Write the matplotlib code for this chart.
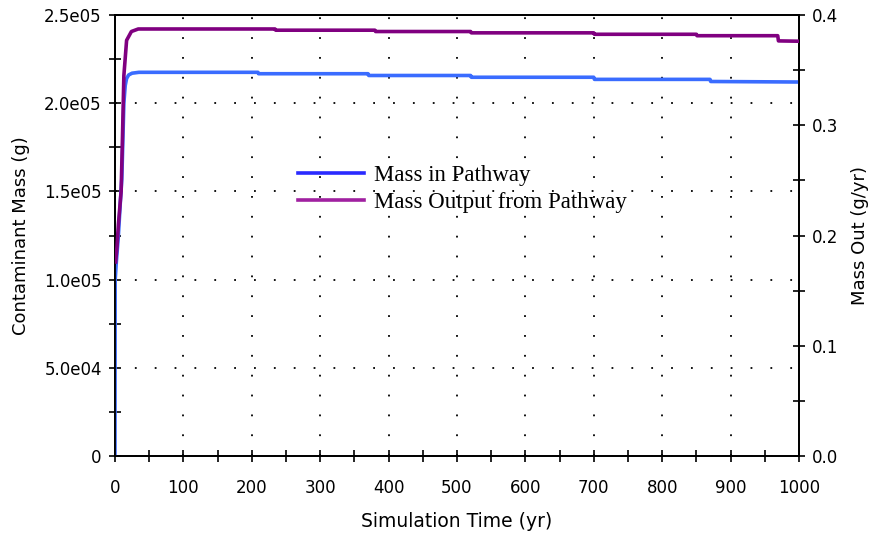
import matplotlib.pyplot as plt
from matplotlib.ticker import MultipleLocator, FuncFormatter
from matplotlib.lines import Line2D

# values
time_mass = [0, 0.3, 2, 5, 8, 10, 13, 15, 17, 20, 25, 35, 209, 210, 370, 371, 520, 521,
             700, 701, 870, 871, 1000]
mass_in_pathway = [0, 1.0e5, 1.1e5, 1.25e5, 1.45e5, 1.57e5, 2.0e5, 2.1e5, 2.14e5, 2.16e5,
                   2.17e5, 2.175e5, 2.175e5, 2.167e5, 2.167e5, 2.157e5, 2.157e5, 2.147e5,
                   2.147e5, 2.135e5, 2.135e5, 2.123e5, 2.12e5]

time_out = [1, 3, 5, 9, 11, 13, 17, 24, 34, 234, 235, 380, 381, 520, 521, 700, 701,
            850, 851, 969, 970, 1000]
mass_out = [0.176, 0.19, 0.21, 0.24, 0.29, 0.345, 0.377, 0.385, 0.3873, 0.3873, 0.3862,
            0.3862, 0.3850, 0.3850, 0.3838, 0.3838, 0.3825, 0.3825, 0.3812, 0.3812, 0.3765,
            0.3762]

plt.rcParams['font.family'] = 'DejaVu Sans'

fig = plt.figure(figsize=(8.77, 5.37), dpi=100)
ax = fig.add_axes([0.1311, 0.1508, 0.7799, 0.8213])
ax2 = ax.twinx()

ax.plot(time_mass, mass_in_pathway, color='#3a6cff', lw=2.6, zorder=3)
ax2.plot(time_out, mass_out, color='#800080', lw=2.6, zorder=3)

ax.set_xlim(0, 1000)
ax.set_ylim(0, 2.5e5)
ax2.set_ylim(0, 0.4)

ax.xaxis.set_major_locator(MultipleLocator(100))
ax.xaxis.set_minor_locator(MultipleLocator(50))
ax.yaxis.set_major_locator(MultipleLocator(5e4))
ax.yaxis.set_minor_locator(MultipleLocator(2.5e4))
ax2.yaxis.set_major_locator(MultipleLocator(0.1))
ax2.yaxis.set_minor_locator(MultipleLocator(0.05))


def sci_fmt(v, pos):
    if v == 0:
        return '0'
    m, e = f'{v:.1e}'.split('e')
    return f'{m}e{int(e):02d}'


ax.yaxis.set_major_formatter(FuncFormatter(sci_fmt))
ax2.yaxis.set_major_formatter(FuncFormatter(lambda v, p: f'{v:.1f}'))

for a in (ax, ax2):
    a.tick_params(which='major', direction='inout', length=9, width=1.2,
                  labelsize=12, color='black')
    a.tick_params(which='minor', direction='inout', length=9, width=1.2, color='black')
    for s in a.spines.values():
        s.set_linewidth(1.3)
ax.tick_params(axis='x', pad=12)
ax.tick_params(axis='y', pad=5)
ax2.tick_params(axis='y', pad=5)

ax.grid(True, which='major', color='black', linestyle=(0, (1, 10)), linewidth=1.3)

ax.set_xlabel('Simulation Time (yr)', fontsize=13.5, labelpad=11)
ax.set_ylabel('Contaminant Mass (g)', fontsize=13, labelpad=10)
ax2.set_ylabel('Mass Out (g/yr)', fontsize=13, labelpad=9)

handles = [Line2D([], [], color='#2a2aff', lw=2.6),
           Line2D([], [], color='#a020a0', lw=2.6)]
ax.legend(handles, ['Mass in Pathway', 'Mass Output from Pathway'],
          loc='upper left', bbox_to_anchor=(0.237, 0.707), frameon=False,
          prop={'family': 'Liberation Serif', 'size': 16.5},
          handlelength=2.9, handletextpad=0.45, labelspacing=0.25)

fig.savefig('out.png', dpi=100)
